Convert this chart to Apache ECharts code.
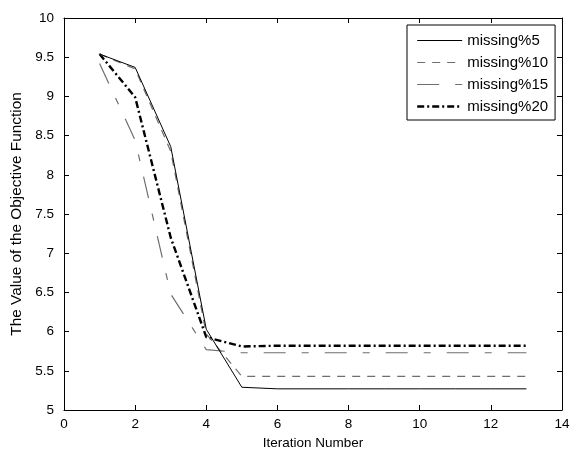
<!DOCTYPE html>
<html>
<head>
<meta charset="utf-8">
<script src="https://cdn.jsdelivr.net/npm/echarts@6/dist/echarts.min.js"></script>
<style>
  html, body { margin: 0; padding: 0; background: #fff; }
  #chart { width: 576px; height: 451px; }
</style>
</head>
<body>
<div id="chart"></div>
<script>
// Iteration index shared by all runs
const iterations = [1, 2, 3, 4, 5, 6, 7, 8, 9, 10, 11, 12, 13];

// Objective function value per iteration, one array per missing-data rate
const missing5  = [9.54, 9.37, 8.36, 6.03, 5.29, 5.27, 5.27, 5.27, 5.27, 5.27, 5.27, 5.27, 5.27];
const missing10 = [9.54, 9.35, 8.30, 5.97, 5.43, 5.43, 5.43, 5.43, 5.43, 5.43, 5.43, 5.43, 5.43];
const missing15 = [9.42, 8.44, 6.48, 5.77, 5.73, 5.73, 5.73, 5.73, 5.73, 5.73, 5.73, 5.73, 5.73];
const missing20 = [9.54, 8.99, 7.20, 5.93, 5.81, 5.82, 5.82, 5.82, 5.82, 5.82, 5.82, 5.82, 5.82];

const seriesNames = ['missing%5', 'missing%10', 'missing%15', 'missing%20'];

const FONT = '"Liberation Sans", Arial, sans-serif';

function pairs(values) {
  return iterations.map((it, i) => [it, values[i]]);
}

const styles = [
  { color: '#000000', width: 1,   type: 'solid' },
  { color: '#6e6e6e', width: 1.2, type: [8, 7] },
  { color: '#6e6e6e', width: 1.2, type: [22, 16, 7, 16] },
  { color: '#000000', width: 2.4, type: [7, 3, 2, 3] }
];

const dataSets = [missing5, missing10, missing15, missing20];

const xBase = {
  type: 'value', min: 0, max: 14, interval: 2,
  axisLine: { show: true, onZero: false, lineStyle: { color: '#000', width: 1 } },
  axisTick: { show: true, inside: true, length: 5, lineStyle: { color: '#000' } },
  splitLine: { show: false }
};
const yBase = {
  type: 'value', min: 5, max: 10, interval: 0.5,
  axisLine: { show: true, onZero: false, lineStyle: { color: '#000', width: 1 } },
  axisTick: { show: true, inside: true, length: 5, lineStyle: { color: '#000' } },
  splitLine: { show: false }
};

const chart = echarts.init(document.getElementById('chart'), null, { renderer: 'canvas' });

chart.setOption({
  animation: false,
  backgroundColor: '#ffffff',
  grid: { left: 64, right: 14, top: 18, bottom: 41, containLabel: false, outerBoundsMode: 'none' },
  xAxis: [
    Object.assign({}, xBase, {
      position: 'bottom',
      name: 'Iteration Number',
      nameLocation: 'middle',
      nameGap: 23,
      nameTextStyle: { fontFamily: FONT, fontSize: 13.5, color: '#000' },
      axisLabel: { fontFamily: FONT, fontSize: 13.5, color: '#000', margin: 7 }
    }),
    Object.assign({}, xBase, { position: 'top', axisLabel: { show: false } })
  ],
  yAxis: [
    Object.assign({}, yBase, {
      position: 'left',
      name: 'The Value of the Objective Function',
      nameLocation: 'middle',
      nameGap: 34,
      nameTextStyle: { fontFamily: FONT, fontSize: 15.4, color: '#000' },
      axisLabel: { fontFamily: FONT, fontSize: 13.5, color: '#000', margin: 10 }
    }),
    Object.assign({}, yBase, { position: 'right', axisLabel: { show: false } })
  ],
  legend: {
    orient: 'vertical',
    left: 407,
    top: 25,
    padding: [8, 7, 6, 9],
    itemGap: 7,
    itemWidth: 45,
    itemHeight: 14,
    borderColor: '#000',
    borderWidth: 1,
    backgroundColor: '#fff',
    // legend keys show only the line sample, no marker
    itemStyle: { color: 'transparent', borderWidth: 0, opacity: 0 },
    lineStyle: { width: 'inherit' },
    textStyle: { fontFamily: FONT, fontSize: 15, color: '#000' },
    data: seriesNames
  },
  series: seriesNames.map((name, i) => ({
    name: name,
    type: 'line',
    xAxisIndex: 0,
    yAxisIndex: 0,
    data: pairs(dataSets[i]),
    symbol: 'none',
    showSymbol: false,
    color: styles[i].color,
    lineStyle: { color: styles[i].color, width: styles[i].width, type: styles[i].type },
    z: 10 - i
  }))
});
</script>
</body>
</html>
